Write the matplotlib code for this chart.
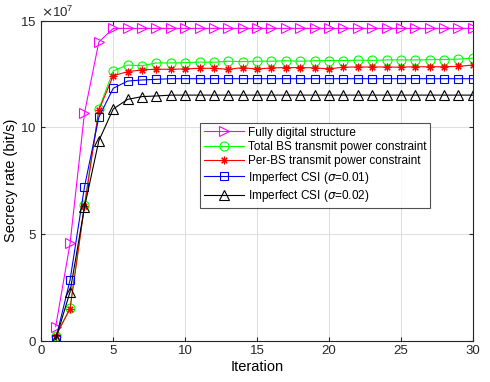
import matplotlib
matplotlib.use("Agg")
import matplotlib.pyplot as plt
import numpy as np
from matplotlib.ticker import ScalarFormatter

plt.rcParams['font.family'] = ['Liberation Sans', 'DejaVu Sans']
plt.rcParams['mathtext.fontset'] = 'dejavusans'

iterations = list(range(1, 31))
scale = 1e7
fully_digital = [0.65, 4.56, 10.66, 14.0, 14.64] + [14.64] * 25
total_bs = [0.22, 1.51, 6.36, 10.86, 12.65, 12.92, 12.89, 13.02, 13.02, 13.03,
            13.06, 13.05, 13.1, 13.08, 13.1, 13.1, 13.12, 13.1, 13.12, 13.13,
            13.13, 13.15, 13.14, 13.16, 13.16, 13.16, 13.17, 13.18, 13.2, 13.24]
per_bs = [0.2, 1.5, 6.3, 10.8, 12.42, 12.61, 12.69, 12.73, 12.72, 12.74,
          12.77, 12.77, 12.72, 12.8, 12.73, 12.79, 12.8, 12.8, 12.79, 12.74,
          12.82, 12.83, 12.83, 12.83, 12.82, 12.84, 12.84, 12.84, 12.86, 12.92]
csi_001 = [0.05, 2.84, 7.2, 10.47, 11.83, 12.17, 12.22, 12.25, 12.28] + [12.28] * 21
csi_002 = [0.05, 2.29, 6.25, 9.37, 10.86, 11.31, 11.44, 11.47, 11.51] + [11.51] * 21

labels = ['Fully digital structure', 'Total BS transmit power constraint',
          'Per-BS transmit power constraint', r'Imperfect CSI ($\sigma$=0.01)',
          r'Imperfect CSI ($\sigma$=0.02)']
series = [fully_digital, total_bs, per_bs, csi_001, csi_002]
colors = ['#FF00FF', '#00FF00', '#FF0000', '#0000FF', '#000000']
markers = ['>', 'o', (8, 2, 0), 's', '^']
msizes = [6.5, 6.5, 5.5, 5.2, 6.5]

fig = plt.figure(figsize=(4.9, 3.82), dpi=100)
ax = fig.add_axes([0.0843, 0.1086, 0.8807, 0.8372])

for vals, lab, c, m, ms in zip(series, labels, colors, markers, msizes):
    ax.plot(iterations, np.array(vals) * scale, color=c, marker=m, markersize=ms,
            markerfacecolor='none', markeredgewidth=0.8, linewidth=0.8, label=lab)

ax.set_xlim(0, 30)
ax.set_ylim(0, 15e7)
ax.set_xticks([0, 5, 10, 15, 20, 25, 30])
ax.set_yticks([0, 5e7, 10e7, 15e7])
fmt = ScalarFormatter(useMathText=True)
fmt.set_powerlimits((7, 7))
ax.yaxis.set_major_formatter(fmt)
ax.yaxis.get_offset_text().set_fontsize(9.5)
ax.grid(True, color='#E0E0E0', linewidth=0.8)
ax.set_axisbelow(True)
ax.tick_params(direction='in', top=True, right=True, labelsize=9.5, length=3, colors='#262626')
for s in ax.spines.values():
    s.set_color('#262626')
    s.set_linewidth(0.8)
ax.set_xlabel('Iteration', fontsize=10.5, labelpad=2)
ax.set_ylabel('Secrecy rate (bit/s)', fontsize=10.5)
ax.yaxis.set_label_coords(-0.054, 0.5)

leg = ax.legend(loc='upper left', fontsize=8.5, handlelength=3.4, frameon=True, fancybox=False,
                edgecolor='#262626', borderpad=0.3, labelspacing=0.2, handletextpad=0.4,
                borderaxespad=0)
leg.get_frame().set_linewidth(0.8)
leg.set_bbox_to_anchor((200 / 490, 1 - 123 / 382), transform=fig.transFigure)

fig.savefig('out.png', dpi=100)
